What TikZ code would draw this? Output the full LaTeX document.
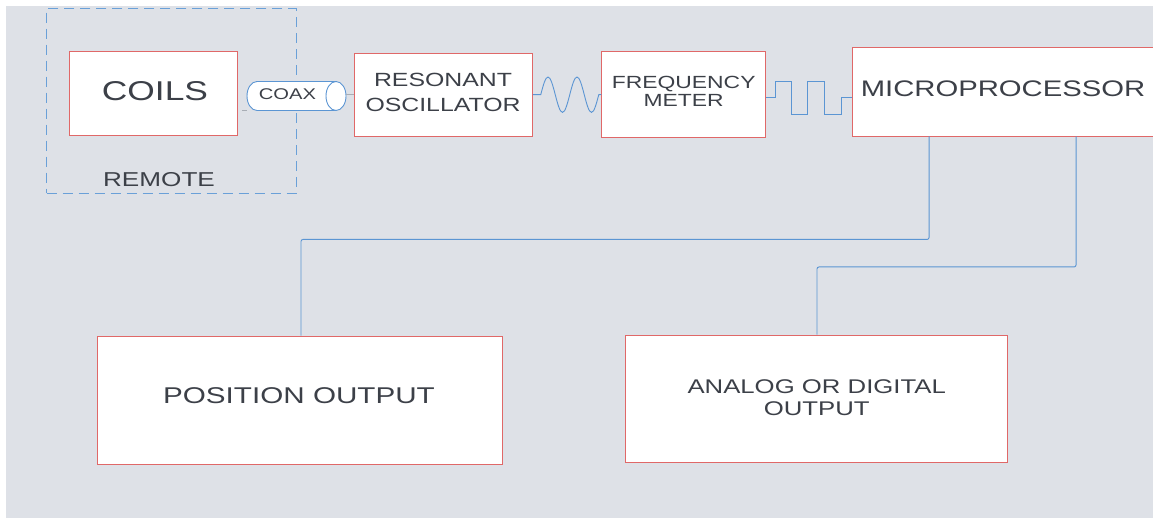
\documentclass[tikz,border=0pt]{standalone}
\usepackage{fontspec}
\newfontfamily\lab[FakeStretch=1.3]{Liberation Sans}
\definecolor{bg}{HTML}{DEE1E7}
\definecolor{boxred}{HTML}{E06868}
\definecolor{wireblue}{HTML}{5B95D3}
\definecolor{dashblue}{HTML}{6AA0D8}
\definecolor{ink}{HTML}{3C4048}
\definecolor{stubgray}{HTML}{A8ADB5}

\begin{document}
\begin{tikzpicture}[x=1pt,y=-1pt,
  box/.style={draw=boxred, fill=white, line width=0.9pt, inner sep=0pt},
  wire/.style={draw=wireblue, line width=0.9pt},
  coaxline/.style={draw=wireblue, line width=0.9pt},
  stub/.style={draw=stubgray, line width=0.8pt},
  txt/.style 2 args={text=ink, align=center, inner sep=0pt, font=\lab\fontsize{#1}{#2}\selectfont},
]
\useasboundingbox (0,0) rectangle (1153,518);
\clip (0,0) rectangle (1153,518);
\fill[bg] (6,6) rectangle (1153,518);

% remote enclosure
\node[draw=dashblue, dash pattern=on 10pt off 6pt, line width=0.9pt,
      minimum width=249.3pt, minimum height=185pt, inner sep=0pt] (remote) at (171.35,100.8) {};
\node[txt={20.1}{22}] (remoteT) at (159,179.5) {REMOTE};

% blocks
\node[box, minimum width=168.4pt, minimum height=84.3pt] (coils) at (153.5,93.8) {};
\node[txt={27.2}{30}] (coilsT) at (155,91) {COILS};

% coax cable drawn as a cylinder lying on its side
\node[minimum width=99pt, minimum height=29pt, inner sep=0pt] (coax) at (296.5,96) {};
\path[coaxline, fill=white] (257,96) ellipse [x radius=10, y radius=14.5];
\fill[white] (257,81.5) rectangle (336,110.5);
\draw[coaxline] (257,81.5) -- (336,81.5) (257,110.5) -- (336,110.5);
\path[coaxline, fill=white] (336,96) ellipse [x radius=10, y radius=14.5];
\node[txt={15.5}{17}] (coaxT) at (287.5,94.3) {COAX};

\node[box, minimum width=178pt, minimum height=82.7pt] (osc) at (443.3,94.7) {};
\node[txt={19.1}{25}] (oscT) at (443,92.5) {RESONANT\\OSCILLATOR};

\node[box, minimum width=164pt, minimum height=85.6pt] (freq) at (683.7,94.5) {};
\node[txt={17.6}{18.3}] (freqT) at (683.7,91.5) {FREQUENCY\\METER};

\node[box, minimum width=313pt, minimum height=88.7pt] (micro) at (1008.5,91.65) {};
\node[txt={22.5}{25}] (microT) at (1003,88.7) {MICROPROCESSOR};

\node[box, minimum width=405pt, minimum height=128pt] (posout) at (299.5,400) {};
\node[txt={22.8}{25}] (posoutT) at (299,395.8) {POSITION OUTPUT};

\node[box, minimum width=381.4pt, minimum height=127.7pt] (analog) at (816.5,398.85) {};
\node[txt={19.8}{21.7}] (analogT) at (816.7,397.5) {ANALOG OR DIGITAL\\OUTPUT};

% short leads at the coax ends
\draw[stub] (coax.south west) -- ++(-5,0);
\draw[stub] ([yshift=2pt]coax.east) -- ([yshift=2pt]coax.east -| osc.west);

% oscillator output: sine wave
\draw[wire] (osc.east) -- ++(8,0)
  sin ++(7.25,-17.7) cos ++(7.25,17.7) sin ++(7.25,17.7) cos ++(7.25,-17.7)
  sin ++(7.25,-17.7) cos ++(7.25,17.7) sin ++(7.25,17.7) cos ++(7.25,-17.7)
  -- (freq.west);

% frequency meter output: square wave
\draw[wire] ([yshift=-3.3pt]freq.east) -- ++(9,0) -- ++(0,-16.6) -- ++(16.7,0)
  -- ++(0,33.3) -- ++(16,0) -- ++(0,-33.3) -- ++(16.3,0) -- ++(0,33.3)
  -- ++(17,0) -- ++(0,-16.7) coordinate (sqend) -- (sqend -| micro.west);

% microprocessor outputs
\draw[wire, rounded corners=2pt] ([xshift=77.5pt]micro.south west) -- ++(0,103)
  -| ([xshift=1.5pt]posout.north);
\draw[wire, rounded corners=2pt] ([xshift=224.5pt]micro.south west) -- ++(0,130.5)
  -| ([xshift=0.5pt]analog.north);
\end{tikzpicture}
\end{document}
